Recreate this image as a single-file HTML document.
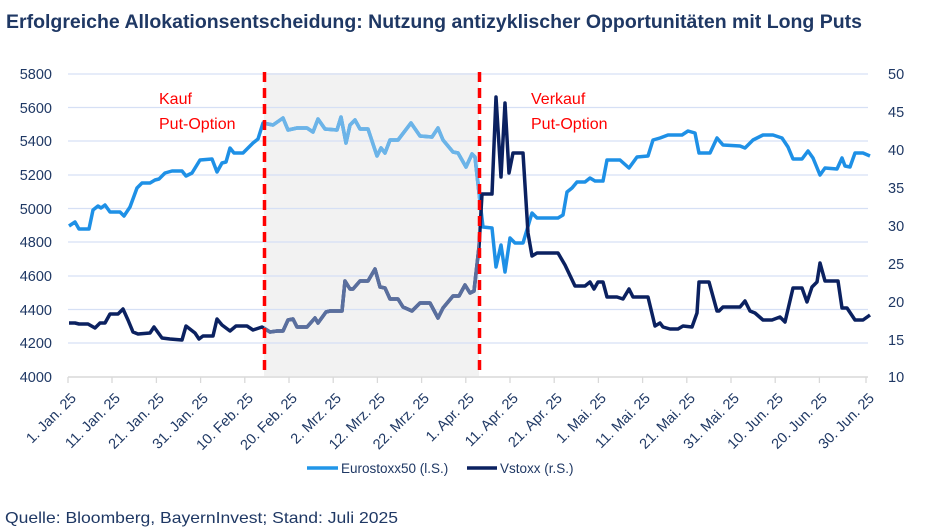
<!DOCTYPE html>
<html><head><meta charset="utf-8"><style>
html,body{margin:0;padding:0;background:#fff;}
svg{display:block;font-family:"Liberation Sans",sans-serif;}
</style></head><body>
<svg width="930" height="532" viewBox="0 0 930 532" xmlns="http://www.w3.org/2000/svg">
<defs><clipPath id="sh"><rect x="264" y="60" width="215" height="320"/></clipPath></defs>
<text x="6" y="28" font-size="19" font-weight="bold" fill="#1f3864" textLength="856" lengthAdjust="spacingAndGlyphs">Erfolgreiche Allokationsentscheidung: Nutzung antizyklischer Opportunitäten mit Long Puts</text>
<rect x="264" y="73" width="215" height="303" fill="#f2f2f2"/>
<g stroke="#d6e0f5" stroke-width="1.3">
<line x1="68" x2="868" y1="74" y2="74"/><line x1="68" x2="868" y1="107.5" y2="107.5"/><line x1="68" x2="868" y1="141" y2="141"/><line x1="68" x2="868" y1="175" y2="175"/><line x1="68" x2="868" y1="208.5" y2="208.5"/><line x1="68" x2="868" y1="242" y2="242"/><line x1="68" x2="868" y1="276" y2="276"/><line x1="68" x2="868" y1="309.5" y2="309.5"/><line x1="68" x2="868" y1="343" y2="343"/>
</g>
<line x1="68" x2="868" y1="377" y2="377" stroke="#d9d9d9" stroke-width="1.5"/>
<g font-size="14.5" fill="#1f3864" text-anchor="end">
<text x="52" y="79">5800</text><text x="52" y="113">5600</text><text x="52" y="146">5400</text><text x="52" y="180">5200</text><text x="52" y="214">5000</text><text x="52" y="247">4800</text><text x="52" y="281">4600</text><text x="52" y="315">4400</text><text x="52" y="348">4200</text><text x="52" y="382">4000</text>
</g>
<g font-size="14.5" fill="#1f3864">
<text x="888" y="79">50</text><text x="888" y="117">45</text><text x="888" y="155">40</text><text x="888" y="193">35</text><text x="888" y="231">30</text><text x="888" y="269">25</text><text x="888" y="307">20</text><text x="888" y="345">15</text><text x="888" y="382">10</text>
</g>
<g stroke="#d9d9d9" stroke-width="1.3">
<line x1="68" x2="68" y1="377" y2="383"/><line x1="112" x2="112" y1="377" y2="383"/><line x1="156.4" x2="156.4" y1="377" y2="383"/><line x1="200.6" x2="200.6" y1="377" y2="383"/><line x1="244.8" x2="244.8" y1="377" y2="383"/><line x1="289" x2="289" y1="377" y2="383"/><line x1="333.2" x2="333.2" y1="377" y2="383"/><line x1="377.4" x2="377.4" y1="377" y2="383"/><line x1="421.6" x2="421.6" y1="377" y2="383"/><line x1="465.8" x2="465.8" y1="377" y2="383"/><line x1="510" x2="510" y1="377" y2="383"/><line x1="554.2" x2="554.2" y1="377" y2="383"/><line x1="598.4" x2="598.4" y1="377" y2="383"/><line x1="642.6" x2="642.6" y1="377" y2="383"/><line x1="686.8" x2="686.8" y1="377" y2="383"/><line x1="731" x2="731" y1="377" y2="383"/><line x1="775.2" x2="775.2" y1="377" y2="383"/><line x1="819.4" x2="819.4" y1="377" y2="383"/><line x1="866" x2="866" y1="377" y2="383"/>
</g>
<g font-size="14.5" fill="#1f3864" text-anchor="end">
<text transform="translate(77,399) rotate(-45)">1. Jan. 25</text>
<text transform="translate(121,399) rotate(-45)">11. Jan. 25</text>
<text transform="translate(165,399) rotate(-45)">21. Jan. 25</text>
<text transform="translate(209,399) rotate(-45)">31. Jan. 25</text>
<text transform="translate(254,399) rotate(-45)">10. Feb. 25</text>
<text transform="translate(298,399) rotate(-45)">20. Feb. 25</text>
<text transform="translate(342,399) rotate(-45)">2. Mrz. 25</text>
<text transform="translate(386,399) rotate(-45)">12. Mrz. 25</text>
<text transform="translate(430,399) rotate(-45)">22. Mrz. 25</text>
<text transform="translate(475,399) rotate(-45)">1. Apr. 25</text>
<text transform="translate(519,399) rotate(-45)">11. Apr. 25</text>
<text transform="translate(563,399) rotate(-45)">21. Apr. 25</text>
<text transform="translate(607,399) rotate(-45)">1. Mai. 25</text>
<text transform="translate(651,399) rotate(-45)">11. Mai. 25</text>
<text transform="translate(696,399) rotate(-45)">21. Mai. 25</text>
<text transform="translate(740,399) rotate(-45)">31. Mai. 25</text>
<text transform="translate(784,399) rotate(-45)">10. Jun. 25</text>
<text transform="translate(828,399) rotate(-45)">20. Jun. 25</text>
<text transform="translate(875,399) rotate(-45)">30. Jun. 25</text>
</g>
<polyline fill="none" stroke="#1e90e6" stroke-width="3.5" stroke-linejoin="round" points="69,226 75,222 79,229 89,229 93,210 98,206 101,208 105,205 110,212 120,212 124,216 130,207 137,188 142,183 150,183 155,180 159,179 165,173 172,171 182,171 186,176 192,173 200,160 212,159 217,172 222,163 226,162 230,148 234,153 243,153 253,143 258,139 263,123 273,125 283,118 288,130 297,128 307,128 313,132 318,119 325,129 337,130 341,117 346,143 350,125 355,120 360,129 368,129 377,156 381,148 385,153 390,140 398,140 411,123 420,136 432,137 438,128 443,140 453,152 458,153 466,167 472,154 475,157 479,193 483,227 492,228 496,267 501,245 505,272 510,238 515,243 523,243 532,213 537,218 558,218 563,215 567,192 572,188 577,182 585,182 590,178 595,181 603,181 607,160 620,160 629,168 637,157 648,156 653,140 660,138 668,135 682,135 688,131 695,133 699,153 710,153 717,138 723,145 740,146 745,148 753,140 763,135 773,135 782,138 788,147 793,159 802,159 808,151 813,158 820,175 825,168 837,169 842,158 845,166 850,167 855,153 863,153 870,156"/>
<polyline fill="none" stroke="#0b2160" stroke-width="3.5" stroke-linejoin="round" points="69,323 75,323 79,324 88,324 95,328 100,323 105,323 110,314 118,314 123,309 128,320 133,332 138,334 150,333 154,327 162,338 170,339 182,340 186,326 195,333 199,339 203,336 213,336 217,319 222,325 230,331 236,326 247,326 253,330 262,327 270,332 277,331 283,331 288,320 293,319 297,327 307,327 315,318 318,323 326,312 330,311 342,311 345,281 350,289 353,289 360,281 368,281 375,269 380,287 385,288 390,299 398,299 403,307 412,311 420,303 430,303 438,318 443,308 453,296 459,296 465,285 470,293 474,291 479,247 482,194 492,194 496,97 501,177 505,103 509,173 513,153 523,153 528,233 532,256 537,253 558,253 565,265 575,286 585,286 590,282 594,289 598,282 603,282 607,297 617,297 623,299 629,289 633,297 648,297 655,326 660,323 663,327 670,329 678,329 683,326 692,327 697,313 699,282 709,282 717,311 719,311 723,307 729,307 740,307 745,301 750,311 755,313 763,320 772,320 780,317 785,322 793,288 802,288 807,302 812,287 817,282 820,263 825,281 838,281 842,308 847,308 855,320 863,320 870,315"/>
<g clip-path="url(#sh)">
<polyline fill="none" stroke="#6cb4e8" stroke-width="3.5" stroke-linejoin="round" points="258,139 263,123 273,125 283,118 288,130 297,128 307,128 313,132 318,119 325,129 337,130 341,117 346,143 350,125 355,120 360,129 368,129 377,156 381,148 385,153 390,140 398,140 411,123 420,136 432,137 438,128 443,140 453,152 458,153 466,167 472,154 475,157 479,193 483,227"/>
<polyline fill="none" stroke="#5a6f9e" stroke-width="3.5" stroke-linejoin="round" points="262,327 270,332 277,331 283,331 288,320 293,319 297,327 307,327 315,318 318,323 326,312 330,311 342,311 345,281 350,289 353,289 360,281 368,281 375,269 380,287 385,288 390,299 398,299 403,307 412,311 420,303 430,303 438,318 443,308 453,296 459,296 465,285 470,293 474,291 479,247 482,194"/>
</g>
<line x1="264.5" x2="264.5" y1="72" y2="375" stroke="#ff0000" stroke-width="3.5" stroke-dasharray="10,6"/>
<line x1="479.5" x2="479.5" y1="72" y2="375" stroke="#ff0000" stroke-width="3.5" stroke-dasharray="10,6"/>
<g font-size="16" fill="#ff0000">
<text x="159" y="104">Kauf</text><text x="159" y="129">Put-Option</text>
<text x="531" y="104">Verkauf</text><text x="531" y="129">Put-Option</text>
</g>
<line x1="307" x2="338" y1="468" y2="468" stroke="#2196e8" stroke-width="3.5"/>
<text x="341" y="473" font-size="13.5" fill="#1f3864">Eurostoxx50 (l.S.)</text>
<line x1="467" x2="497" y1="468" y2="468" stroke="#0b2160" stroke-width="3.5"/>
<text x="500" y="473" font-size="13.5" fill="#1f3864">Vstoxx (r.S.)</text>
<text x="5" y="523" font-size="16" fill="#1f3864" textLength="393" lengthAdjust="spacingAndGlyphs">Quelle: Bloomberg, BayernInvest; Stand: Juli 2025</text>
</svg>
</body></html>
